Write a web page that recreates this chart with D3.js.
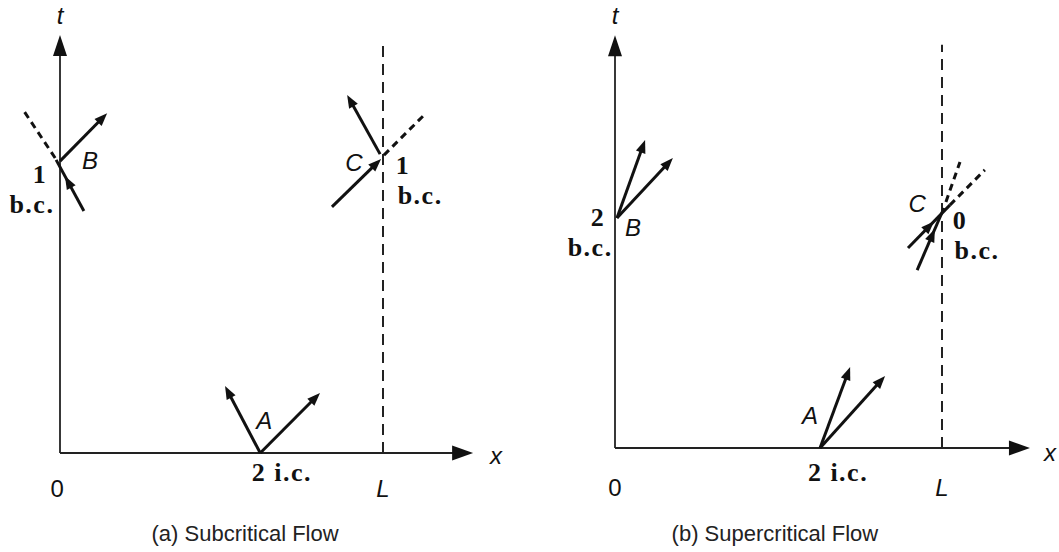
<!DOCTYPE html>
<html>
<head>
<meta charset="utf-8">
<script src="https://cdn.jsdelivr.net/npm/d3@7"></script>
<style>
  body { margin: 0; background: #fff; }
  svg { display: block; }
</style>
</head>
<body>
<script>
// Characteristic diagrams, coordinates in units: x (L = 1), t
const captions = ["(a) Subcritical Flow", "(b) Supercritical Flow"];
const captionPos = [[0.573, -0.25], [0.489, -0.266]];
const axisTipX = [1.279, 1.269];
const axisTipT = [1.306, 1.29];
const lineLTop = [1.275, 1.26];

// segments: from (x1,t1) to (x2,t2); head = where the arrow tip sits (0..1), 0 = dashed extension
const segsA = [
  { x1: 0, t1: 0.912, x2: 0.146, t2: 1.062, head: 1 },
  { x1: 0.074, t1: 0.756, x2: -0.012, t2: 0.916, head: 0.68 },
  { x1: -0.015, t1: 0.922, x2: -0.118, t2: 1.078, head: 0 },
  { x1: 0.842, t1: 0.769, x2: 0.994, t2: 0.919, head: 1 },
  { x1: 0.991, t1: 0.934, x2: 0.889, t2: 1.119, head: 1 },
  { x1: 1.003, t1: 0.931, x2: 1.130, t2: 1.059, head: 0 },
  { x1: 0.62, t1: 0, x2: 0.511, t2: 0.209, head: 1 },
  { x1: 0.62, t1: 0, x2: 0.805, t2: 0.1875, head: 1 }
];
const segsB = [
  { x1: 0.006, t1: 0.719, x2: 0.092, t2: 0.9625, head: 1 },
  { x1: 0.006, t1: 0.719, x2: 0.177, t2: 0.906, head: 1 },
  { x1: 0.896, t1: 0.625, x2: 1.024, t2: 0.759, head: 0.62 },
  { x1: 1.024, t1: 0.759, x2: 1.131, t2: 0.869, head: 0 },
  { x1: 0.924, t1: 0.556, x2: 1.006, t2: 0.75, head: 0.66 },
  { x1: 1.012, t1: 0.769, x2: 1.055, t2: 0.894, head: 0 },
  { x1: 0.627, t1: 0, x2: 0.719, t2: 0.253, head: 1 },
  { x1: 0.627, t1: 0, x2: 0.826, t2: 0.225, head: 1 }
];

// labels: kind it = italic sans, bc = bold serif, n = plain sans
const labelsA = [
  { text: "t", x: 0, t: 1.369, kind: "it" },
  { text: "x", x: 1.35, t: -0.006, kind: "it" },
  { text: "0", x: -0.009, t: -0.109, kind: "n" },
  { text: "L", x: 1, t: -0.109, kind: "it" },
  { text: "B", x: 0.093, t: 0.916, kind: "it" },
  { text: "1", x: -0.062, t: 0.872, kind: "bc" },
  { text: "b.c.", x: -0.087, t: 0.778, kind: "bc" },
  { text: "C", x: 0.910, t: 0.909, kind: "it" },
  { text: "1", x: 1.062, t: 0.9, kind: "bc" },
  { text: "b.c.", x: 1.115, t: 0.806, kind: "bc" },
  { text: "A", x: 0.632, t: 0.103, kind: "it" },
  { text: "2 i.c.", x: 0.687, t: -0.059, kind: "bc" }
];
const labelsB = [
  { text: "t", x: 0, t: 1.353, kind: "it" },
  { text: "x", x: 1.33, t: -0.0125, kind: "it" },
  { text: "0", x: 0, t: -0.122, kind: "n" },
  { text: "L", x: 1, t: -0.122, kind: "it" },
  { text: "2", x: -0.052, t: 0.722, kind: "bc" },
  { text: "b.c.", x: -0.076, t: 0.628, kind: "bc" },
  { text: "B", x: 0.055, t: 0.69, kind: "it" },
  { text: "C", x: 0.924, t: 0.766, kind: "it" },
  { text: "0", x: 1.055, t: 0.714, kind: "bc" },
  { text: "b.c.", x: 1.107, t: 0.62, kind: "bc" },
  { text: "A", x: 0.596, t: 0.103, kind: "it" },
  { text: "2 i.c.", x: 0.682, t: -0.075, kind: "bc" }
];

const width = 1059, height = 552;
const layout = [
  { ox: 60, oy: 453, kx: 323, kt: 320 },
  { ox: 615, oy: 448, kx: 327, kt: 320 }
];

const svg = d3.select("body").append("svg")
  .attr("width", width).attr("height", height);
svg.append("rect").attr("width", width).attr("height", height).attr("fill", "#fff");

function head(g, x, y, ang, len, half) {
  g.append("path")
    .attr("d", "M0,0L" + (-len) + "," + (-half) + "L" + (-len) + "," + half + "Z")
    .attr("transform", "translate(" + x + "," + y + ")rotate(" + ang * 180 / Math.PI + ")")
    .attr("fill", "#111");
}

function drawPanel(i, segs, labels) {
  const p = layout[i];
  const x = d3.scaleLinear().domain([0, 1]).range([p.ox, p.ox + p.kx]);
  const y = d3.scaleLinear().domain([0, 1]).range([p.oy, p.oy - p.kt]);
  const g = svg.append("g");

  // dashed x = L line
  g.append("line")
    .attr("x1", x(1)).attr("x2", x(1))
    .attr("y1", y(0)).attr("y2", y(lineLTop[i]))
    .attr("stroke", "#222").attr("stroke-width", 2)
    .attr("stroke-dasharray", "11,7");

  // axes
  const axLen = 21;
  g.append("line")
    .attr("x1", x(0)).attr("y1", y(0))
    .attr("x2", x(axisTipX[i]) - axLen + 2).attr("y2", y(0))
    .attr("stroke", "#222").attr("stroke-width", 1.8);
  head(g, x(axisTipX[i]), y(0), 0, axLen, 7.5);
  g.append("line")
    .attr("x1", x(0)).attr("y1", y(0))
    .attr("x2", x(0)).attr("y2", y(axisTipT[i]) + axLen - 2)
    .attr("stroke", "#222").attr("stroke-width", 1.8);
  head(g, x(0), y(axisTipT[i]), -Math.PI / 2, axLen, 7);

  // characteristics
  segs.forEach(function (s) {
    const x1 = x(s.x1), y1 = y(s.t1), x2 = x(s.x2), y2 = y(s.t2);
    const ang = Math.atan2(y2 - y1, x2 - x1);
    if (s.head === 0) {
      g.append("line")
        .attr("x1", x1).attr("y1", y1).attr("x2", x2).attr("y2", y2)
        .attr("stroke", "#111").attr("stroke-width", 3)
        .attr("stroke-dasharray", "7,5");
      return;
    }
    const hl = 13;
    let ex = x2, ey = y2;
    if (s.head === 1) {
      ex = x2 - Math.cos(ang) * hl * 0.6;
      ey = y2 - Math.sin(ang) * hl * 0.6;
    }
    g.append("line")
      .attr("x1", x1).attr("y1", y1).attr("x2", ex).attr("y2", ey)
      .attr("stroke", "#111").attr("stroke-width", 3);
    const hx = x1 + (x2 - x1) * s.head, hy = y1 + (y2 - y1) * s.head;
    head(g, hx, hy, ang, hl, 5);
  });

  // labels
  g.selectAll("text.lab").data(labels).enter().append("text")
    .attr("class", "lab")
    .attr("x", function (d) { return x(d.x); })
    .attr("y", function (d) { return y(d.t); })
    .attr("dy", "0.36em")
    .attr("text-anchor", "middle")
    .attr("fill", "#111")
    .style("font-family", function (d) {
      return d.kind === "bc" ? "'Liberation Serif', 'DejaVu Serif', serif" : "'Liberation Sans', Arial, sans-serif";
    })
    .style("font-size", function (d) { return d.kind === "bc" ? "26px" : "24px"; })
    .style("font-weight", function (d) { return d.kind === "bc" ? "bold" : "normal"; })
    .style("font-style", function (d) { return d.kind === "it" ? "italic" : "normal"; })
    .style("letter-spacing", function (d) { return d.kind === "bc" ? "1.5px" : "0px"; })
    .text(function (d) { return d.text; });

  // caption
  g.append("text")
    .attr("x", x(captionPos[i][0]))
    .attr("y", y(captionPos[i][1]))
    .attr("dy", "0.36em")
    .attr("text-anchor", "middle")
    .attr("fill", "#222")
    .style("font-family", "'Liberation Sans', Arial, sans-serif")
    .style("font-size", "22px")
    .text(captions[i]);
}

drawPanel(0, segsA, labelsA);
drawPanel(1, segsB, labelsB);
</script>
</body>
</html>
